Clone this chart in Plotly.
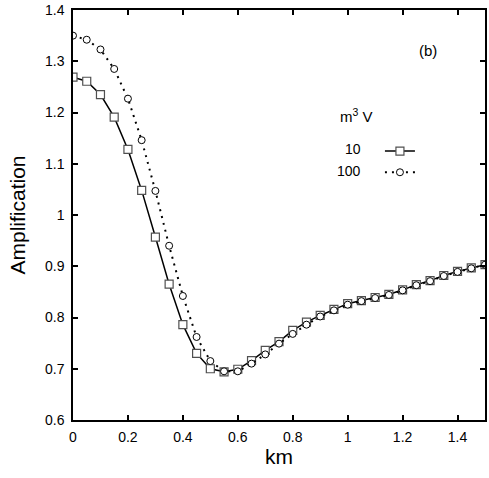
import plotly.graph_objects as go

km = [0.0, 0.05, 0.1, 0.15, 0.2, 0.25, 0.3, 0.35, 0.4, 0.45, 0.5, 0.55, 0.6, 0.65, 0.7,
      0.75, 0.8, 0.85, 0.9, 0.95, 1.0, 1.05, 1.1, 1.15, 1.2, 1.25, 1.3, 1.35, 1.4, 1.45, 1.5]

amp_10 = [1.269, 1.261, 1.235, 1.191, 1.128, 1.048, 0.957, 0.865, 0.786, 0.730, 0.700,
          0.694, 0.699, 0.716, 0.736, 0.753, 0.775, 0.791, 0.804, 0.816, 0.827, 0.833,
          0.839, 0.845, 0.854, 0.864, 0.872, 0.882, 0.890, 0.897, 0.903]

amp_100 = [1.350, 1.342, 1.323, 1.285, 1.227, 1.146, 1.047, 0.940, 0.842, 0.762, 0.715,
           0.695, 0.695, 0.710, 0.728, 0.749, 0.768, 0.786, 0.802, 0.814, 0.825, 0.832,
           0.838, 0.844, 0.853, 0.863, 0.871, 0.881, 0.889, 0.896, 0.903]

series_names = ["10", "100"]
legend_title = "m<sup>3</sup> V"
panel_label = "(b)"

FONT = "Liberation Sans, Arial, Helvetica, sans-serif"

fig = go.Figure()
fig.add_trace(go.Scatter(
    x=km, y=amp_10, mode="lines+markers", name=" ",
    line=dict(color="black", width=1.5, dash="solid"),
    marker=dict(symbol="square", size=8, color="white",
                line=dict(color="#505050", width=1.2)),
))
fig.add_trace(go.Scatter(
    x=km, y=amp_100, mode="lines+markers", name=" ",
    line=dict(color="black", width=2, dash="2px,5px"),
    marker=dict(symbol="circle", size=7, color="white",
                line=dict(color="black", width=1)),
))

axis_common = dict(
    showgrid=False, zeroline=False, showline=True, linecolor="black", linewidth=1.5,
    mirror="ticks", ticks="inside", ticklen=5, tickwidth=1.5, tickcolor="black",
    tickfont=dict(family=FONT, size=14, color="black"), automargin=False,
)

fig.update_xaxes(range=[0, 1.5], tick0=0, dtick=0.2, ticklabelstandoff=3,
                 title=dict(text="km", font=dict(family=FONT, size=21, color="black"), standoff=3),
                 **axis_common)
fig.update_yaxes(range=[0.6, 1.4], tick0=0.6, dtick=0.1, ticklabelstandoff=4,
                 title=dict(text="Amplification", font=dict(family=FONT, size=21, color="black"), standoff=14),
                 **axis_common)

ann_font = dict(family=FONT, size=14, color="black")
fig.add_annotation(x=0.862, y=0.901, xref="paper", yref="paper", text=panel_label,
                   showarrow=False, xanchor="center", yanchor="middle",
                   font=dict(family=FONT, size=15, color="black"))
fig.add_annotation(x=0.687, y=0.742, xref="paper", yref="paper", text=legend_title,
                   showarrow=False, xanchor="center", yanchor="middle",
                   font=dict(family=FONT, size=15, color="black"))
fig.add_annotation(x=0.704, y=0.660, xref="paper", yref="paper", text=series_names[0],
                   showarrow=False, xanchor="right", yanchor="middle", font=ann_font)
fig.add_annotation(x=0.704, y=0.607, xref="paper", yref="paper", text=series_names[1],
                   showarrow=False, xanchor="right", yanchor="middle", font=ann_font)

fig.update_layout(
    width=489, height=478,
    margin=dict(l=73, r=4, t=10, b=58),
    plot_bgcolor="white", paper_bgcolor="white",
    showlegend=True,
    legend=dict(x=0.745, y=0.694, xanchor="left", yanchor="top", bgcolor="rgba(0,0,0,0)",
                font=dict(family=FONT, size=14), tracegroupgap=0, itemwidth=30),
)

fig.write_html("out.html", config={"displayModeBar": False},
               post_script="document.body.style.margin='0';document.body.style.overflow='hidden';")
